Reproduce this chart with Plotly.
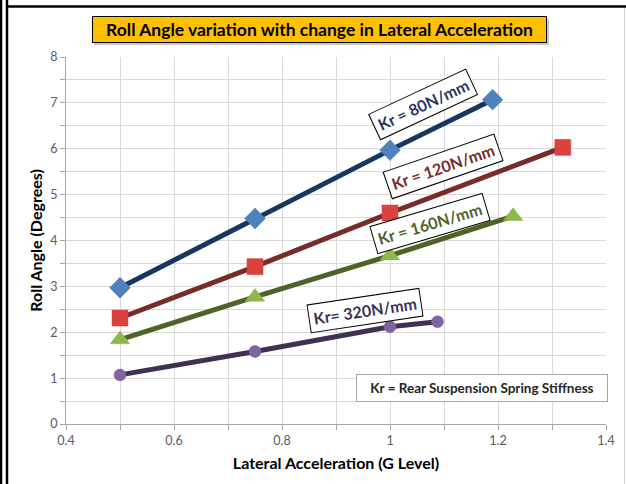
import plotly.graph_objects as go

# Lateral acceleration (G) and roll angle (deg) for each rear spring stiffness
g_80 = [0.5, 0.75, 1.0, 1.19]
roll_80 = [2.97, 4.48, 5.97, 7.07]

g_120 = [0.5, 0.75, 1.0, 1.32]
roll_120 = [2.31, 3.43, 4.60, 6.03]

g_160 = [0.5, 0.75, 1.0, 1.228]
roll_160 = [1.84, 2.77, 3.67, 4.53]

g_320 = [0.5, 0.75, 1.0, 1.088]
roll_320 = [1.07, 1.58, 2.12, 2.23]

series_names = ["Kr = 80N/mm", "Kr = 120N/mm", "Kr = 160N/mm", "Kr= 320N/mm"]

W, H = 626, 484
L, R, T, B = 66, 20, 57, 60
PW, PH = W - L - R, H - T - B

FONT = "Lato, Open Sans, sans-serif"


def px(x):
    return (x - L) / PW


def py(y):
    return (H - B - y) / PH


fig = go.Figure()

styles = [
    (g_80, roll_80, "#17375E", "#4F81BD", "diamond", 16),
    (g_120, roll_120, "#772C2A", "#D9423D", "square", 16),
    (g_160, roll_160, "#4F6228", "#8DB84A", "triangle-up", 17),
    (g_320, roll_320, "#3F3151", "#8064A2", "circle", 12),
]
for (xs, ys, lc, mc, sym, sz), name in zip(styles, series_names):
    fig.add_trace(go.Scatter(
        x=xs, y=ys, name=name, mode="lines+markers",
        line=dict(color=lc, width=5),
        marker=dict(symbol=sym, size=sz, color=mc,
                    line=dict(color=mc, width=0.5)),
        showlegend=False,
    ))

# Rotated series labels placed along each curve
label_specs = [
    (1.061, 6.97, -25, "#1F3864"),
    (1.098, 5.62, -19, "#772C2A"),
    (1.074, 4.37, -16.5, "#4F6228"),
    (0.954, 2.48, -8.5, "#403151"),
]
for (x, y, ang, col), txt in zip(label_specs, series_names):
    fig.add_annotation(
        x=x, y=y, xref="x", yref="y", text="<b>%s</b>" % txt,
        showarrow=False, textangle=ang, xanchor="center", yanchor="middle",
        font=dict(family=FONT, size=16, color=col),
        bgcolor="white", bordercolor="#000000", borderwidth=1, borderpad=4,
    )

# Stiffness note
fig.add_annotation(
    x=px(482), y=py(388), xref="paper", yref="paper",
    xanchor="center", yanchor="middle",
    text="<b>Kr = Rear Suspension Spring Stiffness</b>", showarrow=False,
    font=dict(family=FONT, size=13.5, color="#262626"),
    bgcolor="white", bordercolor="#A6A6A6", borderwidth=1,
    width=248, height=24,
)

# Title box with a soft drop shadow
fig.add_shape(type="rect", xref="paper", yref="paper",
              x0=px(94), x1=px(549), y0=py(45), y1=py(19),
              fillcolor="#C8C8C8", line=dict(width=0), layer="below")
fig.add_annotation(
    x=px(319.5), y=py(29.5), xref="paper", yref="paper",
    xanchor="center", yanchor="middle",
    text="<b>Roll Angle variation with change in Lateral Acceleration</b>",
    showarrow=False,
    font=dict(family=FONT, size=17.5, color="#000000"),
    bgcolor="#FFC000", bordercolor="#000000", borderwidth=1,
    width=451, height=23,
)

# Page frame lines
frame = [
    (1, 0, 1, H, "#000000", 2.5),
    (7, 0, 7, H, "#000000", 2.5),
    (6, 6.5, W, 6.5, "#000000", 2.5),
    (624.5, 8, 624.5, H, "#D0D0D0", 1),
]
for x0, y0, x1, y1, c, w in frame:
    fig.add_shape(type="line", xref="paper", yref="paper",
                  x0=px(x0), y0=py(y0), x1=px(x1), y1=py(y1),
                  line=dict(color=c, width=w))

grid = "#D9D9D9"
tickfont = dict(family=FONT, size=12.5, color="#595959")

fig.update_xaxes(
    range=[0.4, 1.4], tick0=0.4, dtick=0.2,
    showgrid=True, gridcolor=grid, gridwidth=1,
    minor=dict(dtick=0.1, showgrid=True, gridcolor=grid, gridwidth=1,
               ticks="outside", ticklen=5, tickcolor="#A6A6A6"),
    ticks="outside", ticklen=5, tickcolor="#A6A6A6",
    showline=True, linecolor="#A6A6A6", linewidth=1,
    zeroline=False, tickfont=tickfont,
    title=dict(text="<b>Lateral Acceleration (G Level)</b>",
               font=dict(family=FONT, size=16, color="#000000"), standoff=10),
)
fig.update_yaxes(
    range=[0, 8], tick0=0, dtick=1,
    showgrid=True, gridcolor=grid, gridwidth=1,
    minor=dict(dtick=0.5, showgrid=True, gridcolor=grid, gridwidth=1,
               ticks="outside", ticklen=5, tickcolor="#A6A6A6"),
    ticks="outside", ticklen=5, tickcolor="#A6A6A6",
    showline=True, linecolor="#A6A6A6", linewidth=1,
    zeroline=False, tickfont=tickfont,
    title=dict(text="<b>Roll Angle (Degrees)</b>",
               font=dict(family=FONT, size=16, color="#000000"), standoff=3),
)

fig.update_layout(
    width=W, height=H,
    margin=dict(l=L, r=R, t=T, b=B),
    paper_bgcolor="white", plot_bgcolor="white",
)

fig.write_html("out.html")
